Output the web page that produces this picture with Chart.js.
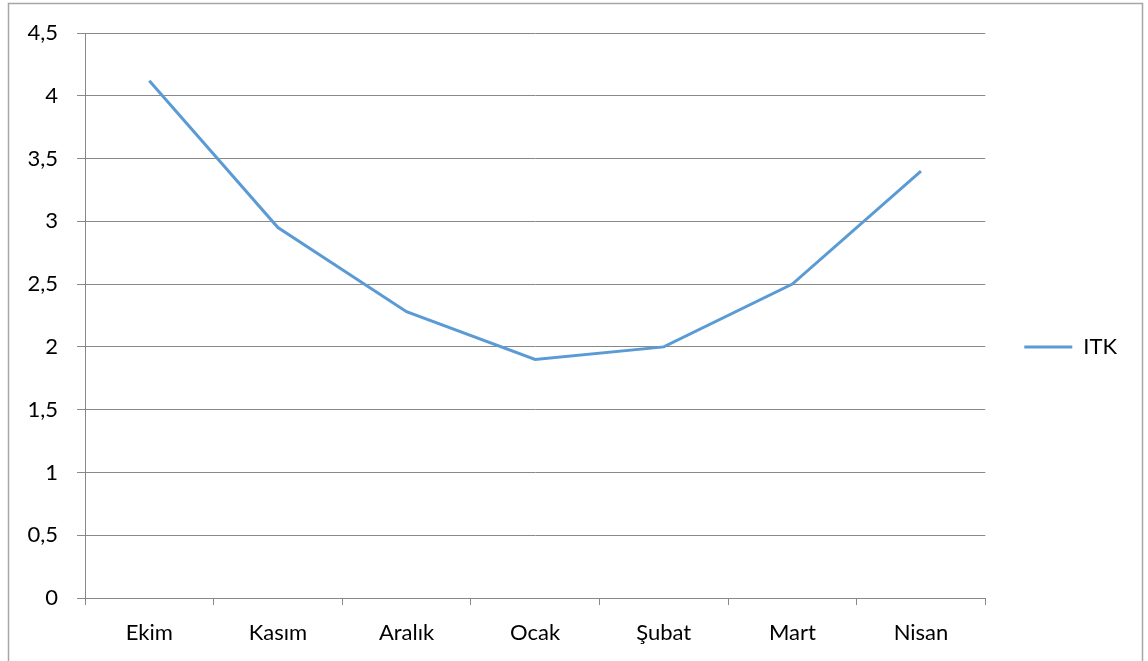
<!DOCTYPE html>
<html>
<head>
<meta charset="utf-8">
<script src="https://cdn.jsdelivr.net/npm/chart.js@4"></script>
<style>
  html, body { margin: 0; padding: 0; background: #fff; }
  #wrap { width: 1148px; height: 661px; }
</style>
</head>
<body>
<div id="wrap"><canvas id="itkChart"></canvas></div>
<script>
// monthly ITK values
const months = ['Ekim', 'Kasım', 'Aralık', 'Ocak', 'Şubat', 'Mart', 'Nisan'];
const itk = [4.12, 2.95, 2.28, 1.9, 2.0, 2.5, 3.4];
const yMin = 0, yMax = 4.5, yStep = 0.5;

const lineBlue = '#5B9BD5';
const gridGrey = '#888888';
const font = { family: 'Lato, "Open Sans", sans-serif', size: 22 };

// thin frame round the whole chart
const frame = {
  id: 'frame',
  beforeDraw(chart) {
    const c = chart.ctx;
    c.save();
    c.strokeStyle = '#A6A6A6';
    c.lineWidth = 1.5;
    c.strokeRect(8.5, 3.5, 1134, 700);
    c.restore();
  }
};

const ctx = document.getElementById('itkChart').getContext('2d');
const chart = new Chart(ctx, {
  type: 'line',
  data: {
    labels: months,
    datasets: [{
      label: 'ITK',
      data: itk,
      borderColor: lineBlue,
      backgroundColor: lineBlue,
      borderWidth: 3,
      pointRadius: 0,
      tension: 0
    }]
  },
  options: {
    responsive: true,
    maintainAspectRatio: false,
    animation: false,
    layout: { padding: { top: 33, right: 21, left: 0, bottom: 0 } },
    plugins: {
      tooltip: { enabled: false },
      legend: {
        position: 'right',
        labels: {
          color: '#000',
          font: font,
          boxWidth: 48,
          boxHeight: 3,
          padding: 39,
          generateLabels(ch) {
            return Chart.defaults.plugins.legend.labels.generateLabels(ch).map(l => {
              l.lineWidth = 0;
              l.fillStyle = lineBlue;
              return l;
            });
          }
        }
      }
    },
    scales: {
      x: {
        offset: true,
        afterFit(scale) { scale.height = 63; },
        grid: {
          offset: true,
          drawOnChartArea: false,
          drawTicks: true,
          tickLength: 7,
          color: gridGrey
        },
        border: { color: gridGrey, width: 1 },
        ticks: { color: '#000', font: font, padding: 15, maxRotation: 0 }
      },
      y: {
        min: yMin,
        max: yMax,
        afterFit(scale) { scale.width = 85; },
        grid: { color: gridGrey, tickLength: 8 },
        border: { color: gridGrey, width: 1 },
        ticks: {
          stepSize: yStep,
          color: '#000',
          font: font,
          padding: 19,
          callback: v => String(v).replace('.', ',')
        }
      }
    }
  },
  plugins: [frame]
});
</script>
</body>
</html>
